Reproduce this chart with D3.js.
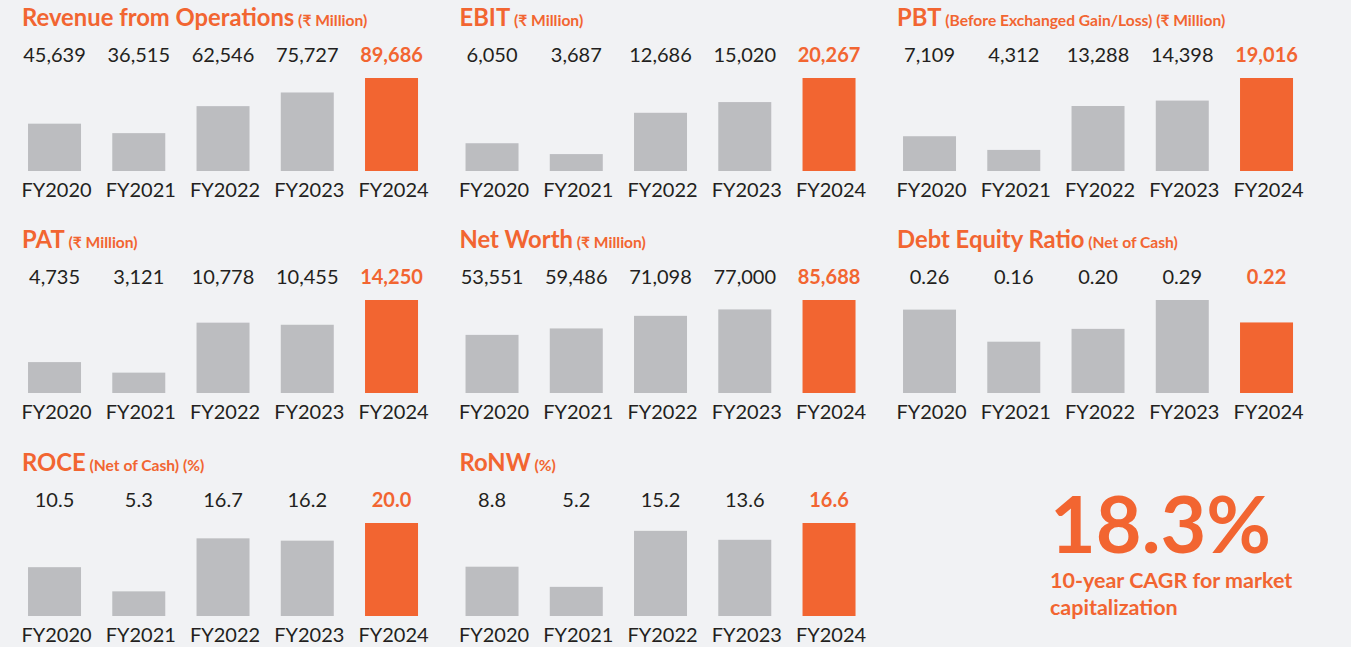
<!DOCTYPE html>
<html>
<head>
<meta charset="utf-8">
<script src="https://cdn.jsdelivr.net/npm/d3@7"></script>
<style>
  html, body { margin: 0; padding: 0; background: #f1f2f4; }
  svg { display: block; font-family: Lato, "Open Sans", sans-serif; }
</style>
</head>
<body>
<div id="graphic"></div>
<script>
// ---- data ----
const years = ["FY2020", "FY2021", "FY2022", "FY2023", "FY2024"];

const revenue    = [45639, 36515, 62546, 75727, 89686];
const ebit       = [6050, 3687, 12686, 15020, 20267];
const pbt        = [7109, 4312, 13288, 14398, 19016];
const pat        = [4735, 3121, 10778, 10455, 14250];
const netWorth   = [53551, 59486, 71098, 77000, 85688];
const debtEquity = [0.26, 0.16, 0.20, 0.29, 0.22];
const roce       = [10.5, 5.3, 16.7, 16.2, 20.0];
const ronw       = [8.8, 5.2, 15.2, 13.6, 16.6];

const titles = ["Revenue from Operations", "EBIT", "PBT", "PAT", "Net Worth",
                "Debt Equity Ratio", "ROCE", "RoNW"];
const subtitles = ["(₹ Million)", "(₹ Million)", "(Before Exchanged Gain/Loss) (₹ Million)",
                   "(₹ Million)", "(₹ Million)", "(Net of Cash)", "(Net of Cash) (%)", "(%)"];
const series = [revenue, ebit, pbt, pat, netWorth, debtEquity, roce, ronw];
const formats = [",", ",", ",", ",", ",", ".2f", ".1f", ".1f"];

const highlightValue = "18.3%";
const highlightText = ["10-year CAGR for market", "capitalization"];

// ---- layout ----
const W = 1351, H = 647;
const ORANGE = "#f26531", GREY = "#bcbdc0", INK = "#231f20";
const COL_X = [0, 437.5, 875];
const ROW_Y = [0, 222, 445];
const BAR_H = 93;

const svg = d3.select("#graphic").append("svg")
    .attr("width", W).attr("height", H);

svg.append("rect").attr("width", W).attr("height", H).attr("fill", "#f1f2f4");

function drawPanel(i){
    const px = COL_X[i % 3], py = ROW_Y[Math.floor(i / 3)];
    const values = series[i];
    const fmt = d3.format(formats[i]);
    const bottom = py + 171;

    const x = d3.scaleBand()
        .domain(years)
        .range([px + 12.4, px + 12.4 + 421.25])
        .paddingInner(0.371)
        .paddingOuter(0.1855);

    const y = d3.scaleLinear()
        .domain([0, d3.max(values)])
        .range([bottom, bottom - BAR_H]);

    const g = svg.append("g").attr("class", "panel");

    const title = g.append("text")
        .attr("x", px + 22).attr("y", py + 26)
        .attr("fill", ORANGE);
    title.append("tspan").attr("font-size", 23.8).attr("font-weight", 700).text(titles[i]);
    title.append("tspan").attr("font-size", 15.6).attr("font-weight", 700).text(" " + subtitles[i]);

    const last = years.length - 1;
    const data = years.map((yr, j) => ({yr, v: values[j], hi: j == last}));

    g.selectAll(".bar").data(data).enter()
        .append("rect")
        .attr("class", "bar")
        .attr("x", d => x(d.yr))
        .attr("width", x.bandwidth())
        .attr("y", d => y(d.v))
        .attr("height", d => bottom - y(d.v))
        .attr("fill", d => d.hi ? ORANGE : GREY);

    g.selectAll(".val").data(data).enter()
        .append("text")
        .attr("class", "val")
        .attr("x", d => x(d.yr) + x.bandwidth() / 2)
        .attr("y", py + 62)
        .attr("text-anchor", "middle")
        .attr("font-size", 20)
        .attr("font-weight", d => d.hi ? 700 : 400)
        .attr("fill", d => d.hi ? ORANGE : INK)
        .text(d => fmt(d.v));

    g.selectAll(".yr").data(data).enter()
        .append("text")
        .attr("class", "yr")
        .attr("x", d => x(d.yr) + x.bandwidth() / 2 + 2)
        .attr("y", py + 197)
        .attr("text-anchor", "middle")
        .attr("font-size", 20)
        .attr("fill", INK)
        .text(d => d.yr);
}

series.forEach((s, i) => drawPanel(i));

// callout in the empty ninth cell
svg.append("text")
    .attr("x", 1050).attr("y", 553)
    .attr("font-size", 79).attr("font-weight", 700)
    .attr("fill", ORANGE)
    .text(highlightValue);

svg.selectAll(".note").data(highlightText).enter()
    .append("text")
    .attr("class", "note")
    .attr("x", 1050)
    .attr("y", (d, i) => 588 + i * 27)
    .attr("font-size", 21.5).attr("font-weight", 700)
    .attr("fill", ORANGE)
    .text(d => d);
</script>
</body>
</html>
